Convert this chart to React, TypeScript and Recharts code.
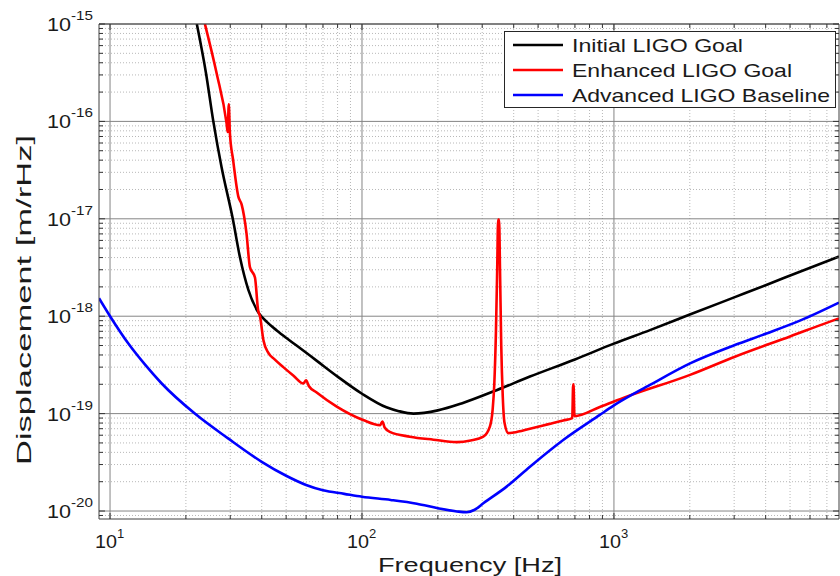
import React from 'react';
import { LineChart, Line, XAxis, YAxis, ReferenceLine, Legend } from 'recharts';

const FONT = '"Liberation Sans", Arial, Helvetica, sans-serif';
const INK = '#1a1a1a';

// axis decades (log10) and minor steps
const X_DECADES = [0, 1, 2, 3];
const Y_DECADES = [-21, -20, -19, -18, -17, -16, -15];
const MINOR_STEPS = [1, 2, 3, 4, 5, 6, 7, 8, 9];
const X_DOMAIN: [number, number] = [9.04, 7820];
const Y_DOMAIN: [number, number] = [8.28e-21, 1e-15];

// Initial LIGO Goal
const initialFreq = [22.1, 24, 25.7, 27.7, 30.7, 32.8, 35.4, 38.7, 42, 46, 50, 55, 66, 80, 100, 125, 140, 160, 200, 250, 342, 464, 700, 993, 1390, 2000, 3000, 4000, 5500, 7820];
const initialDisp = [1e-15, 3.2e-16, 1e-16, 3.4e-17, 1e-17, 4.0e-18, 1.86e-18, 1.1e-18, 8.7e-19, 7.1e-19, 6.0e-19, 5.0e-19, 3.5e-19, 2.4e-19, 1.6e-19, 1.16e-19, 1.06e-19, 1.0e-19, 1.08e-19, 1.28e-19, 1.74e-19, 2.4e-19, 3.6e-19, 5.2e-19, 7.2e-19, 1.04e-18, 1.56e-18, 2.08e-18, 2.88e-18, 4.1e-18];

// Enhanced LIGO Goal
const enhancedFreq = [23.8, 26.5, 29.0, 29.3, 29.6, 29.9, 30.8, 32.3, 33.3, 34.8, 35.9, 37.6, 38.7, 39.4, 40.6, 42.5, 45, 48.7, 53.5, 58.5, 60, 61.5, 66.1, 79.4, 101, 118, 120.5, 123, 129, 155, 192, 238, 270, 303, 322, 330, 335, 340, 344, 347, 350, 353, 357, 362, 368, 381, 400, 464, 550, 629, 683, 689, 691, 697, 879, 1122, 2005, 3020, 5000, 7200, 7820];
const enhancedDisp = [1e-15, 3.1e-16, 9.6e-17, 7.8e-17, 1.5e-16, 7.6e-17, 4.0e-17, 1.69e-17, 1.4e-17, 7.1e-18, 3.2e-18, 2.5e-18, 1.15e-18, 9.9e-19, 5.7e-19, 4.2e-19, 3.6e-19, 3.0e-19, 2.45e-19, 2.04e-19, 2.2e-19, 1.92e-19, 1.65e-19, 1.18e-19, 8.6e-20, 7.6e-20, 8.3e-20, 7.2e-20, 6.5e-20, 5.8e-20, 5.4e-20, 5.1e-20, 5.3e-20, 5.8e-20, 7.4e-20, 1.1e-19, 2.0e-19, 6.7e-19, 3e-18, 9.8e-18, 9.8e-18, 3e-18, 5e-19, 1.5e-19, 8e-20, 6.3e-20, 6.4e-20, 7.0e-20, 7.8e-20, 8.5e-20, 9.0e-20, 2.0e-19, 2.0e-19, 9.4e-20, 1.17e-19, 1.49e-19, 2.5e-19, 3.84e-19, 6.2e-19, 8.8e-19, 9.5e-19];

// Advanced LIGO Baseline
const advancedFreq = [9.04, 10, 11.8, 13.8, 16, 21.7, 29.4, 40, 50, 60, 70, 85, 100, 130, 165, 200, 238, 260, 280, 303, 375, 464, 629, 879, 993, 1390, 2005, 3020, 4000, 5470, 7820];
const advancedDisp = [1.53e-18, 1.0e-18, 5.27e-19, 3.16e-19, 2.05e-19, 1.0e-19, 5.57e-20, 3.2e-20, 2.3e-20, 1.85e-20, 1.63e-20, 1.5e-20, 1.4e-20, 1.3e-20, 1.19e-20, 1.07e-20, 9.9e-21, 9.7e-21, 1.03e-20, 1.2e-20, 1.78e-20, 2.85e-20, 5.36e-20, 9.7e-20, 1.2e-19, 1.97e-19, 3.28e-19, 5.06e-19, 6.6e-19, 9.0e-19, 1.38e-18];

const SERIES = [
  { name: 'Initial LIGO Goal', color: '#000000', freq: initialFreq, disp: initialDisp, textW: 171 },
  { name: 'Enhanced LIGO Goal', color: '#ff0000', freq: enhancedFreq, disp: enhancedDisp, textW: 220 },
  { name: 'Advanced LIGO Baseline', color: '#0000ff', freq: advancedFreq, disp: advancedDisp, textW: 258 },
];

const toRows = (freq: number[], disp: number[]) => freq.map((f, i) => ({ f, v: disp[i] }));

const buildTicks = (decades: number[], domain: [number, number]) => {
  const out: number[] = [];
  decades.forEach(e => MINOR_STEPS.forEach(k => {
    const t = Number(`${k}e${e}`);
    if (t >= domain[0] && t <= domain[1]) out.push(t);
  }));
  return out;
};
const xTicks = buildTicks(X_DECADES, X_DOMAIN);
const yTicks = buildTicks(Y_DECADES, Y_DOMAIN);
const isMajor = (v: number) => {
  const e = Math.round(Math.log10(v));
  return Math.abs(v - Math.pow(10, e)) / v < 1e-6;
};

const XTickBottom = (props: any) => {
  const { x, y, payload } = props;
  const major = isMajor(payload.value);
  const e = Math.round(Math.log10(payload.value));
  return (
    <g>
      <line x1={x} x2={x} y1={y} y2={y - (major ? 6 : 4)} stroke="#333" />
      {major && (
        <g fontFamily={FONT} fill={INK}>
          <text x={x + 7} y={y + 29} textAnchor="end" fontSize={19} textLength={22} lengthAdjust="spacingAndGlyphs">10</text>
          <text x={x + 7} y={y + 19} fontSize={13}>{e}</text>
        </g>
      )}
    </g>
  );
};

const XTickTop = (props: any) => {
  const { x, y, payload } = props;
  const major = isMajor(payload.value);
  return <line x1={x} x2={x} y1={y} y2={y + (major ? 6 : 4)} stroke="#333" />;
};

const YTickLeft = (props: any) => {
  const { x, y, payload } = props;
  const major = isMajor(payload.value);
  const e = Math.round(Math.log10(payload.value));
  return (
    <g>
      <line x1={x} x2={x + (major ? 6 : 4)} y1={y} y2={y} stroke="#333" />
      {major && (
        <g fontFamily={FONT} fill={INK}>
          <text x={x - 28} y={y + 7} textAnchor="end" fontSize={19} textLength={24} lengthAdjust="spacingAndGlyphs">10</text>
          <text x={x - 28} y={y - 4} fontSize={13} textLength={22} lengthAdjust="spacingAndGlyphs">{String(e)}</text>
        </g>
      )}
    </g>
  );
};

const YTickRight = (props: any) => {
  const { x, y, payload } = props;
  const major = isMajor(payload.value);
  return <line x1={x} x2={x - (major ? 6 : 4)} y1={y} y2={y} stroke="#333" />;
};

const LegendBox = () => (
  <svg width={332} height={78} style={{ display: 'block' }}>
    <rect x={0.5} y={0.5} width={331} height={76} fill="#ffffff" stroke="#262626" />
    {SERIES.map((s, i) => {
      const cy = 14 + i * 25;
      return (
        <g key={s.name}>
          <line x1={9} x2={59} y1={cy} y2={cy} stroke={s.color} strokeWidth={2.5} />
          <text x={68} y={cy + 6.5} fontSize={18.5} fontFamily={FONT} fill={INK}
            textLength={s.textW} lengthAdjust="spacingAndGlyphs">{s.name}</text>
        </g>
      );
    })}
  </svg>
);

export default function App() {
  return (
    <div style={{ position: 'absolute', left: 0, top: 0, width: 840, height: 576, background: '#fff' }}>
      <LineChart width={840} height={576} margin={{ top: 23, right: 0, bottom: 27, left: 39 }}>
        <XAxis
          xAxisId={0}
          type="number"
          dataKey="f"
          scale="log"
          domain={X_DOMAIN}
          allowDataOverflow
          ticks={xTicks}
          interval={0}
          tickSize={0}
          tickMargin={0}
          tickLine={false}
          tick={<XTickBottom />}
          axisLine={{ stroke: '#404040' }}
          height={30}
          label={{
            content: () => (
              <text x={470} y={572} textAnchor="middle" fontSize={20} fontFamily={FONT} fill={INK}
                textLength={184} lengthAdjust="spacingAndGlyphs">Frequency [Hz]</text>
            ),
          }}
        />
        <XAxis
          xAxisId="top"
          orientation="top"
          type="number"
          dataKey="f"
          scale="log"
          domain={X_DOMAIN}
          allowDataOverflow
          ticks={xTicks}
          interval={0}
          tickSize={0}
          tickMargin={0}
          tickLine={false}
          tick={<XTickTop />}
          axisLine={{ stroke: '#404040' }}
          height={1}
        />
        <YAxis
          yAxisId={0}
          type="number"
          dataKey="v"
          scale="log"
          domain={Y_DOMAIN}
          allowDataOverflow
          ticks={yTicks}
          interval={0}
          tickSize={0}
          tickMargin={0}
          tickLine={false}
          tick={<YTickLeft />}
          axisLine={{ stroke: '#404040' }}
          width={60}
          label={{
            content: () => (
              <text transform="translate(31,300) rotate(-90)" textAnchor="middle" fontSize={20} fontFamily={FONT} fill={INK}
                textLength={330} lengthAdjust="spacingAndGlyphs">Displacement [m/rHz]</text>
            ),
          }}
        />
        <YAxis
          yAxisId="right"
          orientation="right"
          type="number"
          scale="log"
          domain={Y_DOMAIN}
          allowDataOverflow
          ticks={yTicks}
          interval={0}
          tickSize={0}
          tickMargin={0}
          tickLine={false}
          tick={<YTickRight />}
          axisLine={{ stroke: '#404040' }}
          width={1}
        />

        {xTicks.map(t => (
          <ReferenceLine key={`gx${t}`} x={t} xAxisId={0} yAxisId={0}
            stroke={isMajor(t) ? '#858585' : '#b8b8b8'}
            strokeDasharray={isMajor(t) ? undefined : '1 2'} />
        ))}
        {yTicks.map(t => (
          <ReferenceLine key={`gy${t}`} y={t} xAxisId={0} yAxisId={0}
            stroke={isMajor(t) ? '#858585' : '#b8b8b8'}
            strokeDasharray={isMajor(t) ? undefined : '1 2'} />
        ))}

        {SERIES.map(s => (
          <Line
            key={s.name}
            xAxisId={0}
            yAxisId={0}
            data={toRows(s.freq, s.disp)}
            dataKey="v"
            name={s.name}
            type="monotone"
            stroke={s.color}
            strokeWidth={2.6}
            dot={false}
            activeDot={false}
            isAnimationActive={false}
          />
        ))}

        <Legend
          layout="horizontal"
          verticalAlign="middle"
          content={() => <LegendBox />}
          wrapperStyle={{ position: 'absolute', left: 504, top: 31, width: 332, height: 78 }}
        />
      </LineChart>
    </div>
  );
}
